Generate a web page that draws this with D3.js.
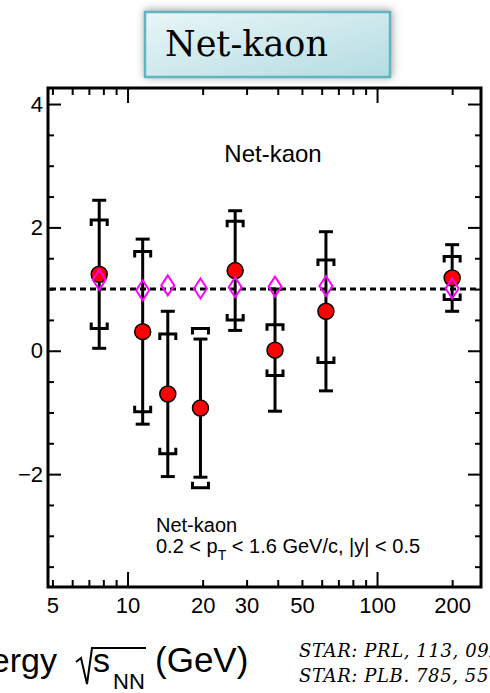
<!DOCTYPE html>
<html>
<head>
<meta charset="utf-8">
<script src="https://cdn.jsdelivr.net/npm/d3@7"></script>
<style>
  body { margin: 0; background: #fff; }
  svg { display: block; }
  text { font-family: "Liberation Sans", Arial, Helvetica, sans-serif; fill: #000; }
</style>
</head>
<body>
<div id="chart"></div>
<script>
// collision energies (GeV)
const energies = [7.7, 11.5, 14.5, 19.6, 27, 39, 62.4, 200];
// net-kaon ratio (red circles) with stat / sys errors
const ratio = [1.24, 0.31, -0.70, -0.93, 1.30, 0.01, 0.64, 1.18];
const statErr = [1.20, 1.50, 1.34, 1.12, 0.97, 0.99, 1.29, 0.54];
const sysErr = [0.88, 1.30, 0.97, 1.29, 0.80, 0.41, 0.83, 0.35];
// magenta open diamonds
const model = [1.15, 0.98, 1.06, 1.01, 1.03, 1.04, 1.05, 1.01];

// axis ticks
const xMajor = [10, 100];
const xMinor = [5, 6, 7, 8, 9, 20, 30, 40, 50, 60, 70, 80, 90, 200];
const xLabels = [5, 10, 20, 30, 50, 100, 200];
const yMajor = [-2, 0, 2, 4];
const yMinor = [-3.5, -3, -2.5, -1.5, -1, -0.5, 0.5, 1, 1.5, 2.5, 3, 3.5];

const W = 490, H = 693;
const L = 48, R = 481, T = 88, B = 587;

const svg = d3.select("#chart").append("svg")
    .attr("width", W)
    .attr("height", H);

const x = d3.scaleLog().domain([4.8, 261]).range([L, R]);
const y = d3.scaleLinear().domain([-3.83, 4.26]).range([B, T]);

//title box
const defs = svg.append("defs");
const grad = defs.append("linearGradient").attr("id", "boxfill")
    .attr("x1", "0%").attr("y1", "0%").attr("x2", "100%").attr("y2", "100%");
grad.append("stop").attr("offset", "0%").attr("stop-color", "#eaf6f7");
grad.append("stop").attr("offset", "100%").attr("stop-color", "#b3dce2");
const shadow = defs.append("filter").attr("id", "shadow")
    .attr("x", "-20%").attr("y", "-40%").attr("width", "140%").attr("height", "180%");
shadow.append("feDropShadow").attr("dx", 1).attr("dy", -1)
    .attr("stdDeviation", 4).attr("flood-color", "#777").attr("flood-opacity", 0.7);

svg.append("rect")
    .attr("x", 145).attr("y", 12).attr("width", 245).attr("height", 65)
    .attr("fill", "url(#boxfill)")
    .attr("stroke", "#62b4c0").attr("stroke-width", 2.5)
    .attr("filter", "url(#shadow)");
svg.append("text")
    .attr("x", 165).attr("y", 56)
    .style("font-family", "'DejaVu Serif', serif")
    .style("font-size", "35px")
    .text("Net-kaon");

//axes - ticks point inward
function tickAxis(axisFn, vals, size, transform) {
    svg.append("g")
        .attr("transform", transform)
        .call(axisFn.tickValues(vals).tickSize(-size).tickFormat(""))
        .call(g => g.select(".domain").remove())
        .call(g => g.selectAll("line").attr("stroke-width", 2));
}
tickAxis(d3.axisBottom(x), xMinor, 7, "translate(0," + B + ")");
tickAxis(d3.axisBottom(x), xMajor, 15, "translate(0," + B + ")");
tickAxis(d3.axisTop(x), xMinor, 7, "translate(0," + T + ")");
tickAxis(d3.axisTop(x), xMajor, 15, "translate(0," + T + ")");
tickAxis(d3.axisLeft(y), yMinor, 6, "translate(" + L + ",0)");
tickAxis(d3.axisLeft(y), yMajor, 13, "translate(" + L + ",0)");
tickAxis(d3.axisRight(y), yMinor, 6, "translate(" + R + ",0)");
tickAxis(d3.axisRight(y), yMajor, 13, "translate(" + R + ",0)");

//tick labels
svg.append("g")
    .attr("transform", "translate(0," + B + ")")
    .call(d3.axisBottom(x).tickValues(xLabels).tickSize(0).tickPadding(10).tickFormat(d3.format("d")))
    .call(g => g.select(".domain").remove())
    .call(g => g.selectAll("text").style("font-size", "22px")
        .style("font-family", "'Liberation Sans', Arial, sans-serif"));
svg.append("g")
    .attr("transform", "translate(" + L + ",0)")
    .call(d3.axisLeft(y).tickValues(yMajor).tickSize(0).tickPadding(5)
        .tickFormat(d => d < 0 ? "\u2212" + Math.abs(d) : d))
    .call(g => g.select(".domain").remove())
    .call(g => g.selectAll("text").style("font-size", "22px")
        .style("font-family", "'Liberation Sans', Arial, sans-serif"));

//frame
svg.append("rect")
    .attr("x", L).attr("y", T).attr("width", R - L).attr("height", B - T)
    .attr("fill", "none").attr("stroke", "#000").attr("stroke-width", 3);

//reference line at 1
svg.append("line")
    .attr("x1", L + 2).attr("x2", R - 2)
    .attr("y1", y(1)).attr("y2", y(1))
    .attr("stroke", "#000").attr("stroke-width", 3)
    .attr("stroke-dasharray", "6,4");

const pts = energies.map((e, i) => ({e: e, v: ratio[i], st: statErr[i], sy: sysErr[i], m: model[i]}));

//stat error bars
const eb = svg.append("g").attr("stroke", "#000").attr("stroke-width", 3).attr("fill", "none");
pts.forEach(function(d) {
    const cx = x(d.e);
    eb.append("line").attr("x1", cx).attr("x2", cx)
        .attr("y1", y(d.v + d.st)).attr("y2", y(d.v - d.st));
    [d.v + d.st, d.v - d.st].forEach(function(v) {
        eb.append("line").attr("x1", cx - 7).attr("x2", cx + 7)
            .attr("y1", y(v)).attr("y2", y(v));
    });
    //systematic brackets, legs pointing toward the point
    const yt = y(d.v + d.sy), yb = y(d.v - d.sy);
    eb.append("path").attr("d",
        "M" + (cx - 8) + "," + (yt + 6) + "V" + yt + "H" + (cx + 8) + "V" + (yt + 6));
    eb.append("path").attr("d",
        "M" + (cx - 8) + "," + (yb - 6) + "V" + yb + "H" + (cx + 8) + "V" + (yb - 6));
});

//red circles
svg.append("g").selectAll("circle")
    .data(pts)
    .enter()
    .append("circle")
    .attr("cx", d => x(d.e))
    .attr("cy", d => y(d.v))
    .attr("r", 8)
    .attr("fill", "#ff0000")
    .attr("stroke", "#000")
    .attr("stroke-width", 1.5);

//magenta diamonds
svg.append("g").selectAll("path")
    .data(pts)
    .enter()
    .append("path")
    .attr("d", function(d) {
        const cx = x(d.e), cy = y(d.m);
        return "M" + cx + "," + (cy - 10) + "L" + (cx + 6.5) + "," + cy +
            "L" + cx + "," + (cy + 10) + "L" + (cx - 6.5) + "," + cy + "Z";
    })
    .attr("fill", "none")
    .attr("stroke", "#ff00ff")
    .attr("stroke-width", 2);

//labels inside the frame
svg.append("text")
    .attr("x", 273).attr("y", 162)
    .attr("text-anchor", "middle")
    .style("font-size", "24px")
    .text("Net-kaon");

svg.append("text")
    .attr("x", 156).attr("y", 532)
    .style("font-size", "20px")
    .text("Net-kaon");
const leg2 = svg.append("text")
    .attr("x", 156).attr("y", 553)
    .style("font-size", "20px");
leg2.append("tspan").text("0.2 < p");
leg2.append("tspan").attr("dy", 7).style("font-size", "14px").text("T");
leg2.append("tspan").attr("dy", -7).text(" < 1.6 GeV/c, |y| < 0.5");

//x axis title (cut off at the left edge, as in the original slide)
svg.append("text")
    .attr("x", 57).attr("y", 672)
    .attr("text-anchor", "end")
    .style("font-size", "34px")
    .text("Energy");
svg.append("path")
    .attr("d", "M76,662 L81,658 L87,684 L92,648 H146")
    .attr("fill", "none").attr("stroke", "#000").attr("stroke-width", 2);
svg.append("text")
    .attr("x", 93).attr("y", 672)
    .style("font-size", "34px")
    .text("s");
svg.append("text")
    .attr("x", 113).attr("y", 689)
    .style("font-size", "22px")
    .text("NN");
svg.append("text")
    .attr("x", 155).attr("y", 672)
    .style("font-size", "35px")
    .text("(GeV)");

//reference
const refs = ["STAR: PRL, 113, 092301 (2014)", "STAR: PLB. 785, 551 (2018)"];
refs.forEach(function(r, i) {
    svg.append("text")
        .attr("x", 299).attr("y", 657 + i * 25)
        .style("font-family", "'DejaVu Serif', serif")
        .style("font-style", "italic")
        .style("font-size", "18px")
        .style("letter-spacing", "0.6px")
        .text(r);
});
</script>
</body>
</html>
